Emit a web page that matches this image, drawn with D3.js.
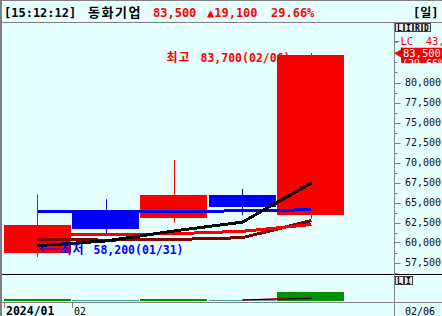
<!DOCTYPE html>
<html>
<head>
<meta charset="utf-8">
<script src="https://cdn.jsdelivr.net/npm/d3@7"></script>
<style>
  body { margin: 0; background: #e6ffff; }
  svg { display: block; }
  text { font-family: "DejaVu Sans Mono", "Noto Sans CJK KR", monospace; white-space: pre; }
</style>
</head>
<body>
<div id="chart"></div>
<script>
"use strict";

// daily candles 01/31 ~ 02/06
let dates  = ["01/31", "02/01", "02/02", "02/05", "02/06"];
let opens  = [58700, 63900, 63000, 65900, 63500];
let highs  = [66000, 65400, 70300, 66700, 83700];
let lows   = [58200, 61100, 62500, 63400, 63000];
let closes = [62200, 61600, 65900, 64400, 83500];

// moving averages
let ma5   = [59600, 60200, 61450, 62550, 67450];
let ma20  = [60950, 60970, 61100, 61400, 62250];
let ma60  = [60400, 60300, 60380, 60600, 62750];
let ma120 = [63900, 63900, 63900, 63950, 64100];

// volume + volume averages
let volumes = [280000, 150000, 260000, 150000, 1050000];
let volMa5  = [null, null, null, 130000, 300000];
let volMa20 = [null, null, null, 110000, 440000];

// axis labels
let priceTicks = [57500, 60000, 62500, 65000, 67500, 70000, 72500, 75000, 77500, 80000];
let dateTicks = ["2024/01", "02"];
let lastDateLabel = "02/06";

// header texts
let headerTime = "[15:12:12]";
let stockName = "동화기업";
let lastPrice = "83,500";
let change = "▲19,100";
let changeRate = "29.66%";
let period = "[일]";

let red = "#f80000",
    blue = "#0000ff",
    darkRed = "#800000",
    gray = "#808080";

var width = 442,
    height = 316,
    axisX = 394.5;

var candles = dates.map(function(d, i) {
  return { date: d, o: opens[i], h: highs[i], l: lows[i], c: closes[i], v: volumes[i] };
});

var x = d3.scaleBand()
  .domain(dates)
  .range([3.5, 344.5])
  .paddingInner(0.02);

var y = d3.scaleLinear()
  .domain([57500, 80000])
  .range([262.5, 82.5]);

var yVol = d3.scaleLinear()
  .domain([0, 3000000])
  .range([301, 275]);

var cx = function(d) { return Math.round(x(d) + x.bandwidth() / 2) + 0.5; };
var fmt = d3.format(",");

var svg = d3.select('#chart').append('svg')
  .attr('width', width)
  .attr('height', height)
  .style('background', '#e6ffff');

svg.append('clipPath').attr('id', 'plotClip')
  .append('rect').attr('x', 2).attr('y', 23).attr('width', axisX - 2).attr('height', 251);

//HEADER
svg.append('rect')
  .attr('x', 0.5).attr('y', 0.5)
  .attr('width', width).attr('height', 22)
  .attr('fill', '#e6ffff')
  .attr('stroke', gray);

var header = [
  { t: headerTime, x: 4, c: "#000" },
  { t: stockName, x: 88, c: "#000", kr: true },
  { t: lastPrice, x: 153, c: "#ff0000" },
  { t: change, x: 207, c: "#ff0000" },
  { t: changeRate, x: 271, c: "#ff0000" },
  { t: period, x: 413, c: "#000" }
];

svg.selectAll('text.header').data(header)
  .enter().append('text')
    .attr('class', 'header')
    .attr('x', function(d) { return d.x; })
    .attr('y', 16.5)
    .attr('fill', function(d) { return d.c; })
    .style('font-size', function(d) { return d.kr ? '13px' : '12px'; })
    .style('font-weight', 'bold')
    .style('letter-spacing', function(d) { return d.kr ? '1.5px' : '0px'; })
    .text(function(d) { return d.t; });

// left frame
svg.append('line')
  .attr('x1', 1).attr('x2', 1).attr('y1', 0).attr('y2', height)
  .attr('stroke', gray).attr('stroke-width', 2);

//PRICE PANE
var plot = svg.append('g').attr('clip-path', 'url(#plotClip)');

// wicks
plot.selectAll('line.wick').data(candles)
  .enter().append('line')
    .attr('x1', function(d) { return cx(d.date); })
    .attr('x2', function(d) { return cx(d.date); })
    .attr('y1', function(d) { return y(d.h); })
    .attr('y2', function(d) { return y(d.l); })
    .attr('stroke', function(d) { return d.c >= d.o ? red : blue; })
    .attr('stroke-width', 1);

// annotation texts (under the candles)
var hiIdx = d3.maxIndex(highs),
    loIdx = d3.minIndex(lows);

var hx = cx(dates[hiIdx]), hy = y(highs[hiIdx]);
plot.append('text')
  .attr('x', hx - 145).attr('y', hy + 9)
  .attr('fill', '#ff0000')
  .style('font-size', '12px').style('font-weight', 'bold').style('letter-spacing', '1px')
  .text("최고");
plot.append('text')
  .attr('x', hx - 111).attr('y', hy + 9)
  .attr('fill', '#ff0000')
  .style('font-size', '11.5px').style('font-weight', 'bold')
  .text(fmt(highs[hiIdx]) + "(" + dates[hiIdx] + ")");

// bodies
plot.selectAll('rect.body').data(candles)
  .enter().append('rect')
    .attr('x', function(d) { return Math.round(x(d.date)); })
    .attr('width', Math.round(x.bandwidth()))
    .attr('y', function(d) { return Math.round(y(Math.max(d.o, d.c))); })
    .attr('height', function(d) { return Math.max(1, Math.round(y(Math.min(d.o, d.c)) - y(Math.max(d.o, d.c)))); })
    .style('fill', function(d) { return d.c >= d.o ? red : blue; });

// moving average lines
var maLine = d3.line()
  .x(function(d, i) { return cx(dates[i]); })
  .y(function(d) { return y(d); });

var maSeries = [
  { values: ma120, color: blue },
  { values: ma60, color: darkRed },
  { values: ma20, color: red },
  { values: ma5, color: "#000" }
];

plot.selectAll('path.ma').data(maSeries)
  .enter().append('path')
    .attr('d', function(d) { return maLine(d.values); })
    .attr('fill', 'none')
    .attr('stroke', function(d) { return d.color; })
    .attr('stroke-width', 3)
    .attr('shape-rendering', 'crispEdges');

// low annotation
var lx = cx(dates[loIdx]), ly = y(lows[loIdx]);
plot.append('path')
  .attr('d', d3.line()([[lx + 23, ly - 8], [lx + 3, ly - 8], [lx + 7, ly - 11], [lx + 3, ly - 8], [lx + 7, ly - 5]]))
  .attr('fill', 'none')
  .attr('stroke', blue);
plot.append('text')
  .attr('x', lx + 23).attr('y', ly - 3)
  .attr('fill', blue)
  .style('font-size', '12px').style('font-weight', 'bold').style('letter-spacing', '1px')
  .text("최저");
plot.append('text')
  .attr('x', lx + 56).attr('y', ly - 3)
  .attr('fill', blue)
  .style('font-size', '11.5px').style('font-weight', 'bold')
  .text(fmt(lows[loIdx]) + "(" + dates[loIdx] + ")");

// pane separator
svg.append('line')
  .attr('x1', 2).attr('x2', width).attr('y1', 274.5).attr('y2', 274.5)
  .attr('stroke', '#000');

//VOLUME PANE
svg.selectAll('rect.vol').data(candles)
  .enter().append('rect')
    .attr('x', function(d) { return Math.round(x(d.date)); })
    .attr('width', Math.round(x.bandwidth()))
    .attr('y', function(d) { return Math.round(yVol(d.v)); })
    .attr('height', function(d) { return Math.round(yVol(0) - yVol(d.v)); })
    .style('fill', function(d) { return d.c >= d.o ? '#009000' : '#48a0a0'; });

var volLine = d3.line()
  .defined(function(d) { return d != null; })
  .x(function(d, i) { return cx(dates[i]); })
  .y(function(d) { return yVol(d); });

svg.append('path').attr('d', volLine(volMa20))
  .attr('fill', 'none').attr('stroke', '#ff0000').attr('stroke-width', 1);
svg.append('path').attr('d', volLine(volMa5))
  .attr('fill', 'none').attr('stroke', '#000').attr('stroke-width', 1);

//DATE AXIS
svg.append('line')
  .attr('x1', 2).attr('x2', width).attr('y1', 302.5).attr('y2', 302.5)
  .attr('stroke', gray);

svg.selectAll('line.dtick').data(dateTicks)
  .enter().append('line')
    .attr('x1', function(d, i) { return Math.round(x(dates[i])) + 0.5; })
    .attr('x2', function(d, i) { return Math.round(x(dates[i])) + 0.5; })
    .attr('y1', 302).attr('y2', 308)
    .attr('stroke', gray);

svg.selectAll('text.dlabel').data(dateTicks)
  .enter().append('text')
    .attr('x', function(d, i) { return Math.round(x(dates[i])) + 2; })
    .attr('y', 314.5)
    .attr('fill', '#000')
    .style('font-size', function(d, i) { return i == 0 ? '11.5px' : '10px'; })
    .style('font-weight', function(d, i) { return i == 0 ? 'bold' : 'normal'; })
    .text(function(d) { return d; });

svg.append('text')
  .attr('x', 405).attr('y', 314.5)
  .attr('fill', '#000')
  .style('font-size', '10px')
  .text(lastDateLabel);

//PRICE AXIS
svg.append('line')
  .attr('x1', axisX).attr('x2', axisX).attr('y1', 22).attr('y2', height)
  .attr('stroke', gray);

var minorTicks = d3.range(56250, 85001, 1250);
svg.selectAll('line.ptick').data(minorTicks)
  .enter().append('line')
    .attr('x1', axisX)
    .attr('x2', function(d) { return priceTicks.indexOf(d) >= 0 ? axisX + 6 : axisX + 3; })
    .attr('y1', function(d) { return Math.round(y(d)) + 0.5; })
    .attr('y2', function(d) { return Math.round(y(d)) + 0.5; })
    .attr('stroke', gray);

svg.selectAll('text.plabel').data(priceTicks)
  .enter().append('text')
    .attr('x', 405)
    .attr('y', function(d) { return y(d) + 3.5; })
    .attr('fill', '#111')
    .style('font-size', '10px')
    .text(function(d) { return fmt(d); });

// LC line text
svg.append('line')
  .attr('x1', axisX).attr('x2', axisX + 5).attr('y1', 41.5).attr('y2', 41.5)
  .attr('stroke', gray);
svg.append('text')
  .attr('x', 400.5).attr('y', 44.5)
  .attr('fill', '#ff0000')
  .style('font-size', '10.5px')
  .text("LC  43,2");

// current price tag
var tagY = y(closes[closes.length - 1]);
svg.append('clipPath').attr('id', 'tagClip')
  .append('rect').attr('x', 401).attr('y', tagY - 7).attr('width', 41).attr('height', 15.5);
svg.append('path')
  .attr('d', d3.line()([[axisX, tagY - 1], [401, tagY - 5], [401, tagY + 3]]))
  .attr('fill', red);
var tag = svg.append('g').attr('clip-path', 'url(#tagClip)');
tag.append('rect')
  .attr('x', 401).attr('y', tagY - 7).attr('width', 41).attr('height', 16)
  .attr('fill', red);
tag.append('text')
  .attr('x', 403).attr('y', tagY + 2)
  .attr('fill', '#fff')
  .style('font-size', '10.5px')
  .text(lastPrice);
tag.append('text')
  .attr('x', 402).attr('y', tagY + 12.5)
  .attr('fill', '#fff')
  .style('font-size', '10px')
  .text("(" + changeRate);
svg.append('line')
  .attr('x1', 401.5).attr('x2', 401.5).attr('y1', tagY - 7).attr('y2', tagY - 1)
  .attr('stroke', blue);

// small L I R D buttons
function buttons(labels, bx, by) {
  var g = svg.append('g');
  g.selectAll('rect').data(labels)
    .enter().append('rect')
      .attr('x', function(d, i) { return bx + i * 9 + 0.5; })
      .attr('y', by + 0.5)
      .attr('width', 8).attr('height', 8)
      .attr('fill', '#e8e8e8')
      .attr('stroke', '#404040');
  g.selectAll('text').data(labels)
    .enter().append('text')
      .attr('x', function(d, i) { return bx + i * 9 + 4.5; })
      .attr('y', by + 7.5)
      .attr('text-anchor', 'middle')
      .attr('fill', '#000')
      .style('font-size', '8px')
      .style('font-weight', 'bold')
      .text(function(d) { return d; });
}
buttons(["L", "I", "R", "D"], 395, 23);
buttons(["L", "I"], 395, 276);

</script>
</body>
</html>
